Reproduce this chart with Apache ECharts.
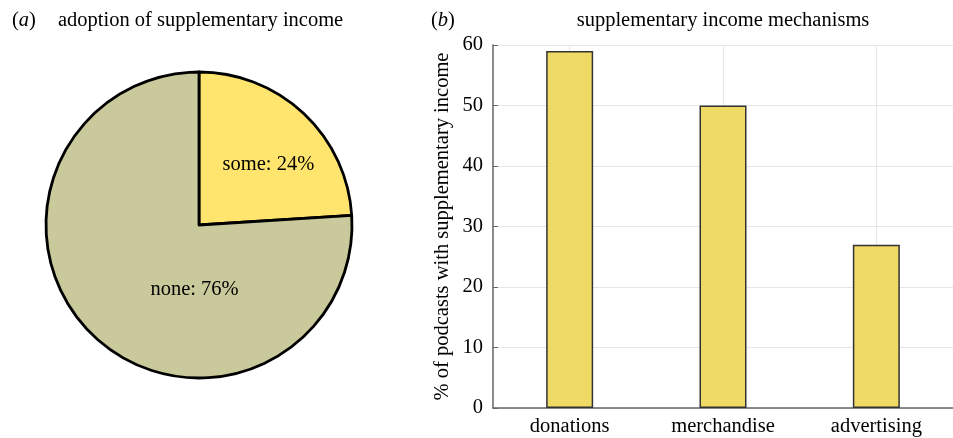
<!DOCTYPE html>
<html>
<head>
<meta charset="utf-8">
<script src="https://cdn.jsdelivr.net/npm/echarts@6/dist/echarts.min.js"></script>
<style>
  html, body { margin: 0; padding: 0; background: #fff; }
  #main { width: 953px; height: 438px; }
</style>
</head>
<body>
<div id="main"></div>
<script>
// 数据
var pieNames = ['some', 'none'];
var pieValues = [24, 76];
var pieColors = ['#FFE56E', '#C9C99B'];

var barCategories = ['donations', 'merchandise', 'advertising'];
var barValues = [59, 50, 27];

var yTicks = [0, 10, 20, 30, 40, 50, 60];

var chart = echarts.init(document.getElementById('main'));
var serif = 'Liberation Serif';
var fs = 20.5;

// 饼图标签的位置微调
var labelShift = [[15, -2], [50, 7]];

var paren = {
    p: { fontFamily: serif, fontSize: fs, fontWeight: 'normal', color: '#000' },
    i: { fontFamily: serif, fontSize: fs, fontWeight: 'normal', fontStyle: 'italic', color: '#000' }
};

var option = {
    animation: false,
    textStyle: { fontFamily: serif },
    title: [
        { text: '{p|(}{i|a}{p|)}', left: 7, top: 5, textStyle: { fontWeight: 'normal', rich: paren } },
        { text: 'adoption of supplementary income', left: 53, top: 5,
          textStyle: { fontFamily: serif, fontSize: fs, fontWeight: 'normal', color: '#000' } },
        { text: '{p|(}{i|b}{p|)}', left: 426, top: 5, textStyle: { fontWeight: 'normal', rich: paren } },
        { text: 'supplementary income mechanisms', left: 718, textAlign: 'center', top: 5,
          textStyle: { fontFamily: serif, fontSize: fs, fontWeight: 'normal', color: '#000' } }
    ],
    grid: { left: 493, right: 0, top: 45, bottom: 30 },
    xAxis: {
        type: 'category',
        data: barCategories,
        axisLine: { lineStyle: { color: '#666', width: 1.5 } },
        axisTick: { inside: true, length: 5, alignWithLabel: true, lineStyle: { color: '#333' } },
        axisLabel: { fontFamily: serif, fontSize: fs, color: '#000', margin: 8 },
        splitLine: { show: true, alignWithLabel: true, lineStyle: { color: '#e6e6e6' } }
    },
    yAxis: {
        type: 'value',
        min: yTicks[0],
        max: yTicks[yTicks.length - 1],
        interval: 10,
        name: '% of podcasts with supplementary income',
        nameLocation: 'middle',
        nameRotate: 90,
        nameGap: 40,
        nameTextStyle: { fontFamily: serif, fontSize: fs, color: '#000' },
        axisLine: { show: true, lineStyle: { color: '#666', width: 1.5 } },
        axisTick: { show: true, inside: true, length: 5, lineStyle: { color: '#666' } },
        axisLabel: { fontFamily: serif, fontSize: fs, color: '#000', margin: 10 },
        splitLine: { show: true, lineStyle: { color: '#e6e6e6' } }
    },
    series: [
        {
            type: 'pie',
            center: [199, 225],
            radius: 153,
            startAngle: 90,
            clockwise: true,
            silent: true,
            data: pieNames.map(function (n, i) {
                return { name: n, value: pieValues[i], itemStyle: { color: pieColors[i] } };
            }),
            itemStyle: { borderColor: '#000', borderWidth: 2.8 },
            label: {
                position: 'inner',
                formatter: '{b}: {c}%',
                fontFamily: serif,
                fontSize: fs,
                color: '#000'
            },
            labelLayout: function (params) {
                var s = labelShift[params.dataIndex];
                return { dx: s[0], dy: s[1] };
            }
        },
        {
            type: 'bar',
            data: barValues,
            barWidth: 47,
            itemStyle: { color: '#F0DA66', borderColor: '#333', borderWidth: 1.5 },
            z: 1
        }
    ]
};

chart.setOption(option);

window.onresize = function () {
    chart.resize();
};
</script>
</body>
</html>
